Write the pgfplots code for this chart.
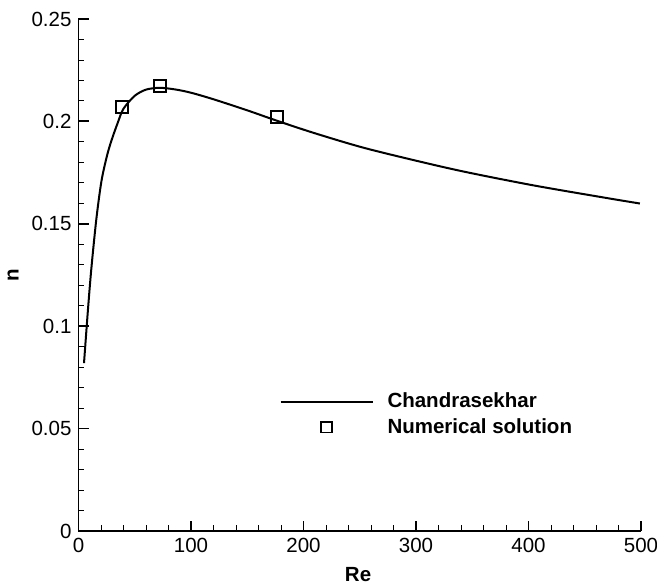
\documentclass[border=0pt]{standalone}
\usepackage{pgfplots}
\pgfplotsset{compat=1.18}
\usepackage{fontspec}
\setmainfont{Liberation Sans}

\pgfplotsset{
    lineleg/.style={legend image code/.code={
        \draw[black, line width=2pt] (0pt,0pt) -- (92pt,0pt);}},
    markleg/.style={legend image code/.code={
        \path[draw=none] (0pt,0pt) -- (92pt,0pt);
        \draw[black, line width=1.6pt] (40.5pt,-5.2pt) rectangle (51.5pt,5.2pt);}},
}

\begin{document}
\fontsize{20.5}{24}\selectfont
\begin{tikzpicture}
\begin{axis}[
    name=ax,
    width=562.5pt, height=512pt, scale only axis,
    xmin=0, xmax=500, ymin=0, ymax=0.25,
    axis x line*=bottom, axis y line*=left,
    axis line style={-, line width=1.9pt, black},
    tick align=inside,
    xtick={0,100,200,300,400,500},
    ytick={0,0.05,0.1,0.15,0.2,0.25},
    yticklabels={0,0.05,0.1,0.15,0.2,0.25},
    minor x tick num=4, minor y tick num=4,
    major tick length=10pt, minor tick length=6pt,
    major tick style={line width=1.8pt, black},
    minor tick style={line width=0.9pt, black},
    /pgf/number format/assume math mode=true,
    tick label style={font=\fontsize{20.5}{24}\selectfont},
    xlabel={\textbf{Re}}, ylabel={\textbf{n}},
    xlabel style={at={(axis description cs:0.497,-0.0996)}, anchor=base, inner sep=0pt},
    ylabel style={at={(axis description cs:-0.1066,0.5)}, anchor=base, inner sep=0pt},
    legend style={at={(axis cs:178.5,0.0569)}, anchor=west, draw=none, fill=none,
        font=\bfseries\fontsize{20.5}{24}\selectfont, inner sep=0pt,
        row sep=4pt, /tikz/every odd column/.append style={column sep=12pt}},
    legend cell align=left,
]
\addplot[black, line width=2pt, smooth, lineleg]
    coordinates {
    (4.9,0.082) (8.4,0.108) (11.4,0.128) (15.8,0.152) (20.3,0.1705)
    (25,0.1825) (29.2,0.1905) (35,0.1995) (40,0.2062) (50,0.2125)
    (60,0.2155) (72,0.2164) (86,0.2156) (100,0.2140) (120,0.2108)
    (150,0.2054) (176,0.2004) (209,0.1944) (253,0.1872) (304,0.1803)
    (345,0.1752) (404,0.1688) (464,0.1631) (499,0.1599)
};
\addlegendentry{Chandrasekhar}
\addplot[only marks, mark=square, mark size=6pt,
    mark options={line width=1.9pt, black}, markleg]
    coordinates {(38.9,0.2070) (72.4,0.2171) (176.2,0.2021)};
\addlegendentry{Numerical solution}
\end{axis}
\pgfresetboundingbox
\path ([shift={(-78.5pt,-55pt)}]ax.south west) rectangle ([shift={(16pt,19pt)}]ax.north east);
\end{tikzpicture}
\end{document}
